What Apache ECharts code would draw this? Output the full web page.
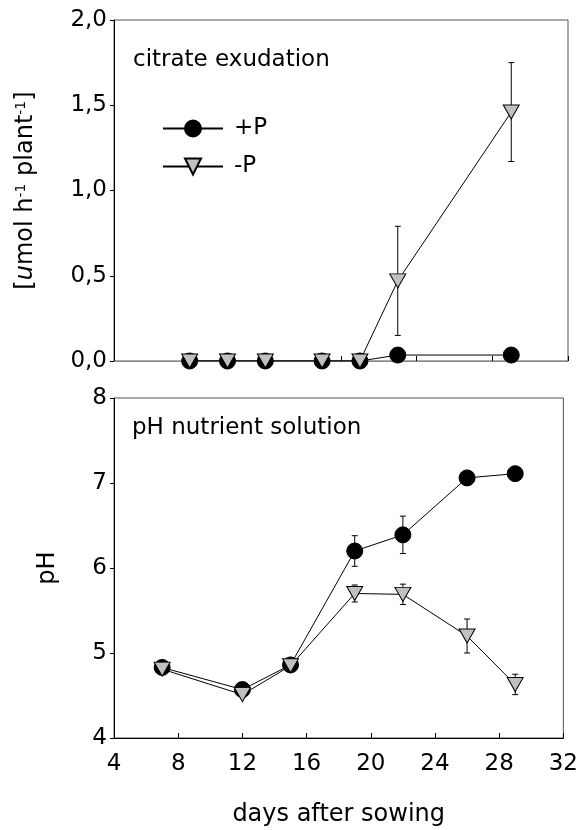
<!DOCTYPE html>
<html>
<head>
<meta charset="utf-8">
<script src="https://cdn.jsdelivr.net/npm/echarts@6/dist/echarts.min.js"></script>
<style>
html,body{margin:0;padding:0;background:#fff;}
#main{width:581px;height:830px;}
</style>
</head>
<body>
<div id="main"></div>
<script>
// citrate exudation (top panel, own x scale)
var citDays = [4, 6, 8, 11, 13, 15, 21];
var citPlus = [0, 0, 0, 0, 0, 0.035, 0.035];
var citMinus = [0, 0, 0, 0, 0, 0.47, 1.46];
var citMinusErr = [0, 0, 0, 0, 0, 0.32, 0.29];

// pH nutrient solution (bottom panel)
var phDays = [7, 12, 15, 19, 22, 26, 29];
var phPlus = [4.83, 4.57, 4.86, 6.20, 6.39, 7.06, 7.11];
var phPlusErr = [0, 0, 0, 0.18, 0.22, 0, 0];
var phMinus = [4.81, 4.51, 4.85, 5.70, 5.69, 5.20, 4.63];
var phMinusErr = [0, 0, 0, 0.10, 0.12, 0.20, 0.12];

var xTicks = [4, 8, 12, 16, 20, 24, 28, 32];

var FONT = 'DejaVu Sans, Liberation Sans, Arial, sans-serif';
var GRAY = '#c0c0c0';
var FS = 23;

function pairs(xs, ys) {
    var out = [];
    for (var i = 0; i < xs.length; i++) out.push([xs[i], ys[i]]);
    return out;
}
function errs(xs, ys, es) {
    var out = [];
    for (var i = 0; i < xs.length; i++) {
        if (es[i] > 0) out.push([xs[i], ys[i] - es[i], ys[i] + es[i]]);
    }
    return out;
}

function errorBar(params, api) {
    var x = api.value(0);
    var lo = api.coord([x, api.value(1)]);
    var hi = api.coord([x, api.value(2)]);
    var w = 3;
    var st = {stroke: '#000', lineWidth: 1};
    return {
        type: 'group',
        children: [
            {type: 'line', shape: {x1: lo[0], y1: lo[1], x2: hi[0], y2: hi[1]}, style: st},
            {type: 'line', shape: {x1: lo[0] - w, y1: lo[1], x2: lo[0] + w, y2: lo[1]}, style: st},
            {type: 'line', shape: {x1: hi[0] - w, y1: hi[1], x2: hi[0] + w, y2: hi[1]}, style: st}
        ]
    };
}

var comma = function (v) { return v.toFixed(1).replace('.', ','); };

var myChart = echarts.init(document.getElementById('main'));

var option = {
    animation: false,
    textStyle: {fontFamily: FONT, color: '#000'},
    title: [
        {text: 'citrate exudation', left: 133, top: 49, padding: 0,
         textStyle: {fontSize: FS, fontWeight: 'normal', fontFamily: FONT, color: '#000'}},
        {text: 'pH nutrient solution', left: 132, top: 417, padding: 0,
         textStyle: {fontSize: FS, fontWeight: 'normal', fontFamily: FONT, color: '#000'}}
    ],
    legend: {
        orient: 'vertical',
        left: 162,
        top: 117,
        padding: 0,
        itemWidth: 60,
        itemHeight: 20,
        itemGap: 15,
        data: ['+P', '-P'],
        textStyle: {fontSize: FS, fontFamily: FONT, color: '#000', padding: [0, 0, 0, 6]}
    },
    grid: [
        {left: 114, right: 13, top: 20, height: 341, show: true, borderColor: '#555', borderWidth: 1},
        {left: 114, right: 13, top: 398, height: 340, show: true, borderColor: '#555', borderWidth: 1}
    ],
    xAxis: [
        {
            gridIndex: 0, type: 'value', min: 0, max: 24, interval: 4,
            axisLine: {lineStyle: {color: '#888'}},
            axisTick: {inside: true, length: 5, lineStyle: {color: '#000'}},
            axisLabel: {show: false},
            splitLine: {show: false}
        },
        {
            gridIndex: 1, type: 'value', min: xTicks[0], max: xTicks[xTicks.length - 1], interval: 4,
            name: 'days after sowing', nameLocation: 'middle', nameGap: 65,
            nameTextStyle: {fontSize: 24, fontFamily: FONT, color: '#000'},
            axisLine: {lineStyle: {color: '#000'}},
            axisTick: {inside: true, length: 5, lineStyle: {color: '#000'}},
            axisLabel: {fontSize: FS, margin: 15, color: '#000', fontFamily: FONT},
            splitLine: {show: false}
        }
    ],
    yAxis: [
        {
            gridIndex: 0, type: 'value', min: 0, max: 2, interval: 0.5,
            name: '[{i|u}mol h{s|-1} plant{s|-1}]', nameLocation: 'middle', nameGap: 76, nameRotate: 90,
            nameTextStyle: {
                fontSize: 24, fontFamily: FONT, color: '#000',
                rich: {
                    i: {fontSize: 24, fontStyle: 'italic', fontFamily: FONT, color: '#000'},
                    s: {fontSize: 14, verticalAlign: 'top', fontFamily: FONT, color: '#000'}
                }
            },
            axisLine: {show: true, lineStyle: {color: '#000'}},
            axisTick: {show: true, length: 4, lineStyle: {color: '#000'}},
            axisLabel: {fontSize: FS, margin: 7, color: '#000', fontFamily: FONT, formatter: comma},
            splitLine: {show: false}
        },
        {
            gridIndex: 1, type: 'value', min: 4, max: 8, interval: 1,
            name: 'pH', nameLocation: 'middle', nameGap: 54, nameRotate: 90,
            nameTextStyle: {fontSize: 24, fontFamily: FONT, color: '#000'},
            axisLine: {show: true, lineStyle: {color: '#000'}},
            axisTick: {show: true, length: 4, lineStyle: {color: '#000'}},
            axisLabel: {fontSize: FS, margin: 7, color: '#000', fontFamily: FONT},
            splitLine: {show: false}
        }
    ],
    series: [
        {
            type: 'custom', xAxisIndex: 0, yAxisIndex: 0, renderItem: errorBar,
            data: errs(citDays, citMinus, citMinusErr), z: 1
        },
        {
            type: 'custom', xAxisIndex: 1, yAxisIndex: 1, renderItem: errorBar,
            data: errs(phDays, phPlus, phPlusErr), z: 1
        },
        {
            type: 'custom', xAxisIndex: 1, yAxisIndex: 1, renderItem: errorBar,
            data: errs(phDays, phMinus, phMinusErr), z: 1
        },
        {
            name: '+P', type: 'line', xAxisIndex: 0, yAxisIndex: 0,
            data: pairs(citDays, citPlus),
            symbol: 'circle', symbolSize: 16,
            lineStyle: {color: '#000', width: 1},
            itemStyle: {color: '#000', borderColor: '#000', borderWidth: 1},
            z: 3
        },
        {
            name: '-P', type: 'line', xAxisIndex: 0, yAxisIndex: 0,
            data: pairs(citDays, citMinus),
            symbol: 'triangle', symbolSize: [16, 14], symbolRotate: 180,
            lineStyle: {color: '#000', width: 1},
            itemStyle: {color: GRAY, borderColor: '#000', borderWidth: 1},
            z: 4
        },
        {
            name: '+P', type: 'line', xAxisIndex: 1, yAxisIndex: 1,
            data: pairs(phDays, phPlus),
            symbol: 'circle', symbolSize: 16,
            lineStyle: {color: '#000', width: 1},
            itemStyle: {color: '#000', borderColor: '#000', borderWidth: 1},
            z: 3
        },
        {
            name: '-P', type: 'line', xAxisIndex: 1, yAxisIndex: 1,
            data: pairs(phDays, phMinus),
            symbol: 'triangle', symbolSize: [16, 14], symbolRotate: 180,
            lineStyle: {color: '#000', width: 1},
            itemStyle: {color: GRAY, borderColor: '#000', borderWidth: 1},
            z: 4
        }
    ]
};

myChart.setOption(option);
</script>
</body>
</html>
